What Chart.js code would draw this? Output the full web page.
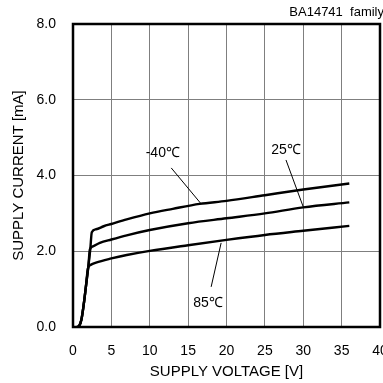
<!DOCTYPE html>
<html><head><meta charset="utf-8">
<script src="https://cdn.jsdelivr.net/npm/chart.js@4"></script>
<style>html,body{margin:0;padding:0;background:#fff}#wrap{width:383px;height:383px}</style>
</head><body><div id="wrap"><canvas id="c" width="383" height="383"></canvas></div>
<script>
const xTicks = [0,5,10,15,20,25,30,35,40];
const yTicks = [0,2,4,6,8];
const seriesNames = ['-40℃','25℃','85℃'];
const vM40 = [0.5,0.8,1.1,1.4,1.7,2.0,2.25,2.45,3,4,5,7,10,13,16.5,20,25,30,36];
const iM40 = [0,0.03,0.2,0.6,1.1,1.6,2.05,2.5,2.58,2.66,2.72,2.84,3.0,3.12,3.25,3.33,3.48,3.63,3.79];
const v25 = [0.5,0.8,1.1,1.4,1.7,2.0,2.2,2.6,3.5,5,7,10,15,20,25,30,36];
const i25 = [0,0.03,0.2,0.6,1.1,1.6,2.05,2.13,2.22,2.31,2.42,2.56,2.74,2.87,3.0,3.16,3.29];
const v85 = [0.5,0.8,1.1,1.4,1.7,1.95,2.3,3,5,7,10,15,20,25,30,36];
const i85 = [0,0.03,0.2,0.6,1.1,1.55,1.64,1.7,1.81,1.9,2.01,2.16,2.30,2.43,2.54,2.67];
const notes = [
  {text:'-40℃', x:11.7, y:4.59, x1:12.8, y1:4.2, x2:16.7, y2:3.25},
  {text:'25℃', x:27.75, y:4.67, x1:27.75, y1:4.41, x2:30.0, y2:3.17},
  {text:'85℃', x:17.6, y:0.63, x1:18.0, y1:1.06, x2:19.3, y2:2.22}
];
const cornerNote = 'BA14741  family';

function pts(v,i){return v.map((x,k)=>({x:x,y:i[k]}));}
const FONT = "'Liberation Sans', Arial, sans-serif";

const deco = {
  id:'deco',
  afterDraw(chart){
    const {ctx, chartArea:a, scales:{x,y}} = chart;
    ctx.save();
    ctx.strokeStyle='#000'; ctx.lineWidth=2.5;
    ctx.strokeRect(a.left,a.top,a.right-a.left,a.bottom-a.top);
    ctx.lineWidth=1; ctx.fillStyle='#000';
    ctx.font = "14px "+FONT; ctx.textAlign='center'; ctx.textBaseline='middle';
    notes.forEach(n=>{
      ctx.beginPath();
      ctx.moveTo(x.getPixelForValue(n.x1), y.getPixelForValue(n.y1));
      ctx.lineTo(x.getPixelForValue(n.x2), y.getPixelForValue(n.y2));
      ctx.stroke();
      ctx.fillText(n.text, x.getPixelForValue(n.x), y.getPixelForValue(n.y));
    });
    ctx.font = "13px "+FONT; ctx.textAlign='right';
    ctx.fillText(cornerNote, 384, 12);
    ctx.restore();
  }
};

const mk = (v,i)=>({data:pts(v,i), borderColor:'#000', borderWidth:2.4, pointRadius:0, fill:false, cubicInterpolationMode:'monotone'});

new Chart(document.getElementById('c'), {
  type:'line',
  data:{datasets:[mk(vM40,iM40), mk(v25,i25), mk(v85,i85)].map((d,k)=>Object.assign(d,{label:seriesNames[k]}))},
  options:{
    responsive:false, animation:false,
    layout:{padding:{left:0,right:3,top:24,bottom:0}},
    plugins:{legend:{display:false}, tooltip:{enabled:false}},
    scales:{
      x:{type:'linear', min:0, max:40,
        afterBuildTicks(s){s.ticks = xTicks.map(v=>({value:v}));},
        afterFit(s){s.height = 56; s.paddingLeft=0; s.paddingRight=0;},
        grid:{color:'#7f7f7f', lineWidth:1, drawTicks:false},
        border:{display:false},
        ticks:{color:'#000', font:{family:FONT,size:14}, padding:16, maxRotation:0, autoSkip:false},
        title:{display:true, text:'SUPPLY VOLTAGE [V]', color:'#000', font:{family:FONT,size:15}, padding:{top:0,bottom:2}}
      },
      y:{type:'linear', min:0, max:8,
        afterBuildTicks(s){s.ticks = yTicks.map(v=>({value:v}));},
        afterFit(s){s.width = 73; s.paddingTop=0; s.paddingBottom=0;},
        grid:{color:'#7f7f7f', lineWidth:1, drawTicks:false},
        border:{display:false},
        ticks:{color:'#000', font:{family:FONT,size:14}, padding:17, callback:v=>v.toFixed(1)},
        title:{display:true, text:'SUPPLY CURRENT [mA]', color:'#000', font:{family:FONT,size:15}, padding:{top:10,bottom:0}}
      }
    }
  },
  plugins:[deco]
});
</script></body></html>
